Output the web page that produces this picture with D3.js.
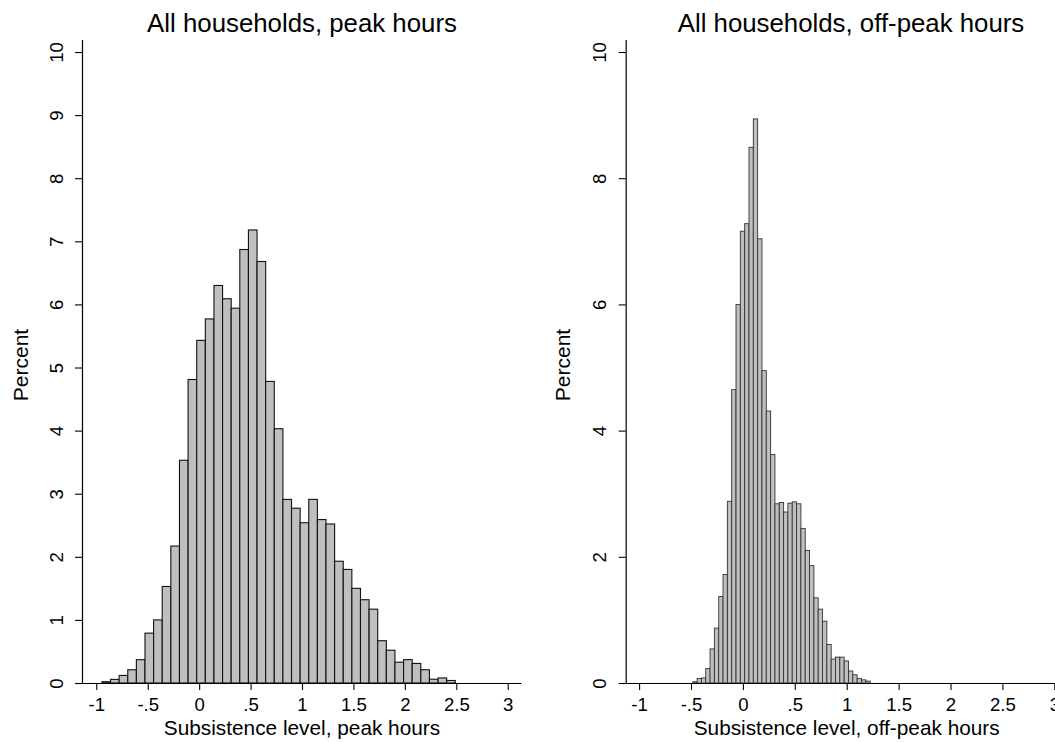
<!DOCTYPE html>
<html>
<head>
<meta charset="utf-8">
<script src="https://cdn.jsdelivr.net/npm/d3@7/dist/d3.min.js"></script>
<style>
  html, body { margin: 0; padding: 0; background: #fff; }
  svg { display: block; }
  text { font-family: "Liberation Sans", Arial, Helvetica, sans-serif; fill: #000; }
</style>
</head>
<body>
<svg id="chart" width="1055" height="742"></svg>
<script>
// ---- data ----
const xTickValues = [-1, -0.5, 0, 0.5, 1, 1.5, 2, 2.5, 3];
const xTickLabels = ["-1", "-.5", "0", ".5", "1", "1.5", "2", "2.5", "3"];
const peakYTicks = [0, 1, 2, 3, 4, 5, 6, 7, 8, 9, 10];
const offYTicks = [0, 2, 4, 6, 8, 10];

const peakBinStart = -0.9456;
const peakBinWidth = 0.0838;
const peakPercent = [0.02, 0.057, 0.12, 0.21, 0.37, 0.79, 1.00, 1.53, 2.17, 3.53,
  4.81, 5.43, 5.77, 6.30, 6.09, 5.94, 6.87, 7.18, 6.68, 4.78,
  4.03, 2.91, 2.77, 2.54, 2.91, 2.59, 2.52, 1.93, 1.80, 1.50,
  1.32, 1.17, 0.67, 0.52, 0.33, 0.37, 0.31, 0.21, 0.06, 0.08, 0.04];

const offBinStart = -0.483;
const offBinWidth = 0.04167;
const offPercent = [0.02, 0.07, 0.08, 0.23, 0.54, 0.87, 1.37, 1.72, 2.88, 4.65,
  6.00, 7.16, 7.28, 8.49, 8.94, 7.04, 4.95, 4.31, 3.62, 2.84,
  2.86, 2.71, 2.85, 2.87, 2.84, 2.45, 2.10, 1.86, 1.35, 1.17,
  0.98, 0.61, 0.38, 0.41, 0.41, 0.35, 0.19, 0.13, 0.07, 0.05, 0.03];

const panels = [
  { title: "All households, peak hours", xTitle: "Subsistence level, peak hours",
    start: peakBinStart, width: peakBinWidth, values: peakPercent, yTicks: peakYTicks,
    xDomain: [-1.139, 3.129], xRange: [82, 521], titleX: 302, stroke: "#111", sw: 1.1,
    yLabelX: 27.5, tickLabelOffset: 19 },
  { title: "All households, off-peak hours", xTitle: "Subsistence level, off-peak hours",
    start: offBinStart, width: offBinWidth, values: offPercent, yTicks: offYTicks,
    xDomain: [-1.129, 3.1], xRange: [625.7, 1064.7], titleX: 851, stroke: "#333", sw: 0.9,
    yLabelX: 570, tickLabelOffset: 20 }
];

const svg = d3.select("#chart");
svg.append("rect").attr("width", 1055).attr("height", 742).attr("fill", "#fff");

const y = d3.scaleLinear().domain([0, 10.2]).range([683, 39.4]);

panels.forEach(p => {
  const x = d3.scaleLinear().domain(p.xDomain).range(p.xRange);
  const g = svg.append("g");

  const bins = p.values.map((v, i) => ({ x0: p.start + i * p.width, x1: p.start + (i + 1) * p.width, v }));

  g.selectAll("rect.bar").data(bins).enter().append("rect")
    .attr("class", "bar")
    .attr("x", d => x(d.x0))
    .attr("width", d => x(d.x1) - x(d.x0))
    .attr("y", d => y(d.v))
    .attr("height", d => y(0) - y(d.v))
    .attr("fill", "#bfbfbf")
    .attr("stroke", p.stroke)
    .attr("stroke-width", p.sw);

  // x axis
  const xa = g.append("g").attr("transform", `translate(0,${y(0)})`)
    .call(d3.axisBottom(x).tickValues(xTickValues)
      .tickFormat((d, i) => xTickLabels[i]).tickSizeOuter(0).tickSizeInner(7).tickPadding(10));
  xa.select(".domain").attr("stroke", "#000").attr("stroke-width", 1.2);
  xa.selectAll(".tick line").attr("stroke", "#000").attr("stroke-width", 1.1);
  xa.selectAll(".tick text").attr("font-size", 18.6).attr("fill", "#000")
    .attr("font-family", "Liberation Sans, Arial, sans-serif")
    .attr("y", 28).attr("dy", 0);

  // y axis
  const ya = g.append("g").attr("transform", `translate(${p.xRange[0]},0)`)
    .call(d3.axisLeft(y).tickValues(p.yTicks).tickFormat(d3.format("d"))
      .tickSizeOuter(0).tickSizeInner(7));
  ya.select(".domain").attr("stroke", "#000").attr("stroke-width", 1.2);
  ya.selectAll(".tick line").attr("stroke", "#000").attr("stroke-width", 1.1);
  ya.selectAll(".tick text").attr("font-size", 18.6).attr("fill", "#000")
    .attr("font-family", "Liberation Sans, Arial, sans-serif")
    .attr("text-anchor", "middle")
    .attr("transform", "rotate(-90)")
    .attr("x", 0).attr("y", -p.tickLabelOffset).attr("dy", 0);

  // titles
  svg.append("text").attr("x", p.titleX).attr("y", 31.5)
    .attr("text-anchor", "middle").attr("font-size", 25.8).text(p.title);

  svg.append("text").attr("x", (x(-1) + x(3)) / 2).attr("y", 735)
    .attr("text-anchor", "middle").attr("font-size", 20.8).text(p.xTitle);

  svg.append("text")
    .attr("transform", `translate(${p.yLabelX},${365}) rotate(-90)`)
    .attr("text-anchor", "middle").attr("font-size", 21).text("Percent");
});
</script>
</body>
</html>
